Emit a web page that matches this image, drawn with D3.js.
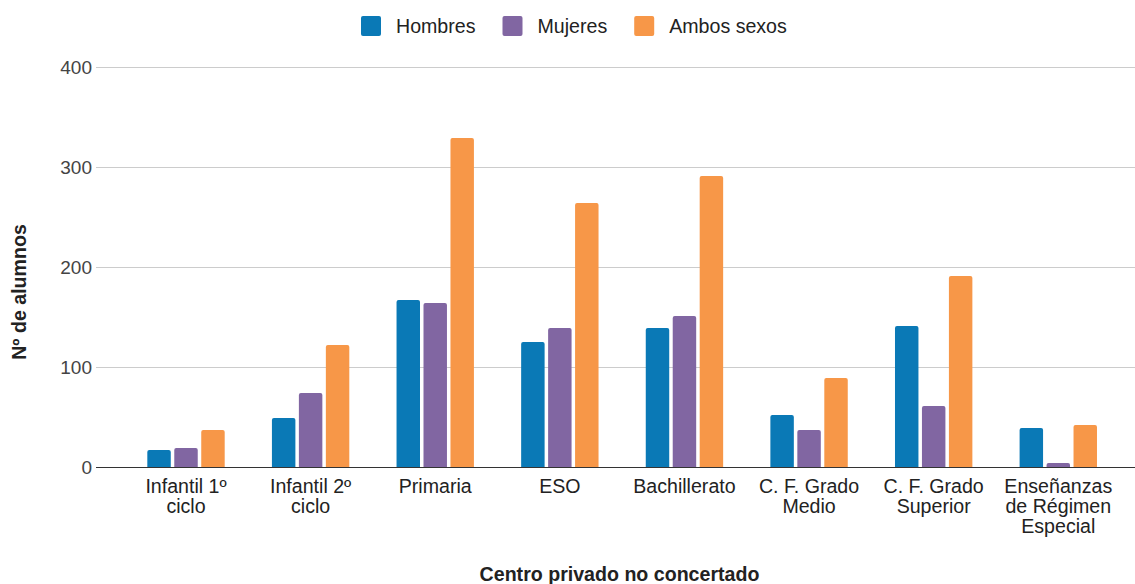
<!DOCTYPE html>
<html><head><meta charset="utf-8">
<script src="https://cdn.jsdelivr.net/npm/d3@7"></script>
<style>
html,body{margin:0;padding:0;background:#fff;}
svg{display:block;font-family:"Liberation Sans",Arial,sans-serif;}
</style></head>
<body><svg id="c" width="1135" height="584"></svg>
<script>
const categories = [
  ["Infantil 1º","ciclo"],
  ["Infantil 2º","ciclo"],
  ["Primaria"],
  ["ESO"],
  ["Bachillerato"],
  ["C. F. Grado","Medio"],
  ["C. F. Grado","Superior"],
  ["Enseñanzas","de Régimen","Especial"]
];
const seriesNames = ["Hombres","Mujeres","Ambos sexos"];
const hombres = [17, 49, 167, 125, 139, 52, 141, 39];
const mujeres = [19, 74, 164, 139, 151, 37, 61, 4];
const ambos   = [37, 122, 329, 264, 291, 89, 191, 42];
const yTicks = [0, 100, 200, 300, 400];
const colors = ["#0a79b6", "#8166a2", "#f79748"];
const xTitle = "Centro privado no concertado";
const yTitle = "Nº de alumnos";

const seriesValues = [hombres, mujeres, ambos];
const svg = d3.select("#c");
const FS = 19.6;

const y = d3.scaleLinear().domain([0, 400]).range([467, 67]);
const x0 = d3.scaleBand().domain(d3.range(categories.length)).range([123.7, 1120.6]).paddingInner(0.379).paddingOuter(0.1895);
const x1 = d3.scaleBand().domain(d3.range(seriesNames.length)).range([0, x0.bandwidth()]).paddingInner(0.13).paddingOuter(0);

// gridlines
svg.append("g").selectAll("line").data(yTicks.filter(t => t !== 0)).join("line")
  .attr("x1", 96).attr("x2", 1135)
  .attr("y1", d => Math.round(y(d)) + 0.5).attr("y2", d => Math.round(y(d)) + 0.5)
  .attr("stroke", "#cccccc").attr("stroke-width", 1);

// y tick labels
svg.append("g").selectAll("text").data(yTicks).join("text")
  .attr("x", 92).attr("y", d => y(d)).attr("dy", "0.36em")
  .attr("text-anchor", "end").attr("font-size", 19).attr("fill", "#444")
  .text(d => d);

// bars
function barPath(x, yTop, w, yBase) {
  const h = yBase - yTop;
  const r = Math.min(2, h / 2, w / 2);
  return `M${x},${yBase}V${yTop + r}Q${x},${yTop} ${x + r},${yTop}H${x + w - r}Q${x + w},${yTop} ${x + w},${yTop + r}V${yBase}Z`;
}
const groups = svg.append("g").selectAll("g").data(categories).join("g")
  .attr("transform", (d, i) => `translate(${x0(i)},0)`);
groups.selectAll("path").data((d, i) => seriesValues.map((s, j) => ({ j, v: s[i] }))).join("path")
  .attr("d", d => barPath(x1(d.j), y(d.v), x1.bandwidth(), y(0)))
  .attr("fill", d => colors[d.j]);

// baseline
svg.append("line").attr("x1", 96).attr("x2", 1135).attr("y1", 467.5).attr("y2", 467.5)
  .attr("stroke", "#333").attr("stroke-width", 1.2);

// x tick labels
const xl = svg.append("g").selectAll("text").data(categories).join("text")
  .attr("text-anchor", "middle").attr("font-size", FS).attr("fill", "#222")
  .attr("x", (d, i) => x0(i) + x0.bandwidth() / 2).attr("y", 493);
xl.selectAll("tspan").data(d => d).join("tspan")
  .attr("x", function () { return d3.select(this.parentNode).attr("x"); })
  .attr("dy", (d, k) => k === 0 ? 0 : 20)
  .text(d => d);

// axis titles
svg.append("text").attr("x", 619.5).attr("y", 581).attr("text-anchor", "middle")
  .attr("font-size", FS).attr("font-weight", "bold").attr("fill", "#222").text(xTitle);
svg.append("text").attr("transform", "translate(26,292) rotate(-90)").attr("text-anchor", "middle")
  .attr("font-size", FS).attr("font-weight", "bold").attr("fill", "#222").text(yTitle);

// legend
const leg = svg.append("g");
let lx = 361;
seriesNames.forEach((name, j) => {
  leg.append("rect").attr("x", lx).attr("y", 16).attr("width", 20).attr("height", 20)
    .attr("rx", 2).attr("fill", colors[j]);
  const t = leg.append("text").attr("x", lx + 35).attr("y", 32.5).attr("font-size", FS)
    .attr("fill", "#222").text(name);
  const w = t.node().getComputedTextLength();
  lx = lx + 35 + w + 27;
});
</script></body></html>
